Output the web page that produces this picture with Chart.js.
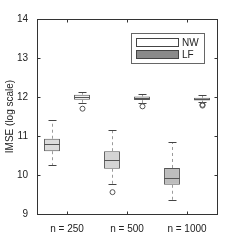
<!DOCTYPE html>
<html><head><meta charset="utf-8">
<script src="https://cdn.jsdelivr.net/npm/chart.js@4/dist/chart.umd.min.js"></script>
<style>html,body{margin:0;padding:0;background:#fff}#wrap{width:242px;height:241px}</style>
</head><body><div id="wrap"><canvas id="c" width="242" height="241"></canvas></div>
<script>
const categories = ['n = 250', 'n = 500', 'n = 1000'];
const seriesNames = ['LF', 'NW'];
const yTicks = [9, 10, 11, 12, 13, 14];
// LF series
const lfMin = [10.25, 9.77, 9.35];
const lfQ1 = [10.61, 10.16, 9.75];
const lfMed = [10.80, 10.39, 9.93];
const lfQ3 = [10.93, 10.61, 10.18];
const lfMax = [11.40, 11.16, 10.84];
const lfOutliers = [[], [9.56], []];
// NW series
const nwMin = [11.84, 11.85, 11.86];
const nwQ1 = [11.93, 11.92, 11.91];
const nwMed = [12.00, 11.97, 11.95];
const nwQ3 = [12.06, 12.01, 11.98];
const nwMax = [12.14, 12.08, 12.06];
const nwOutliers = [[11.70], [11.76], [11.80, 11.78]];

const stats = {
  LF: {min: lfMin, q1: lfQ1, med: lfMed, q3: lfQ3, max: lfMax, out: lfOutliers},
  NW: {min: nwMin, q1: nwQ1, med: nwMed, q3: nwQ3, max: nwMax, out: nwOutliers}
};
const FONT = "'Liberation Sans', Arial, sans-serif";

const boxPlugin = {
  id: 'boxPlugin',
  afterDatasetsDraw(chart) {
    const ctx = chart.ctx, y = chart.scales.y;
    chart.data.datasets.forEach((ds, di) => {
      const s = stats[ds.label];
      const meta = chart.getDatasetMeta(di);
      meta.data.forEach((bar, i) => {
        const x = Math.round(bar.x) + 0.5;
        const cap = 4;
        const yMin = Math.round(y.getPixelForValue(s.min[i])) + 0.5;
        const yMax = Math.round(y.getPixelForValue(s.max[i])) + 0.5;
        const yQ1 = y.getPixelForValue(s.q1[i]);
        const yQ3 = y.getPixelForValue(s.q3[i]);
        const yMed = Math.round(y.getPixelForValue(s.med[i])) + 0.5;
        ctx.save();
        ctx.lineWidth = 1;
        ctx.strokeStyle = '#9a9a9a';
        ctx.setLineDash([3, 3]);
        ctx.beginPath();
        ctx.moveTo(x, yQ3); ctx.lineTo(x, yMax);
        ctx.moveTo(x, yQ1); ctx.lineTo(x, yMin);
        ctx.stroke();
        ctx.setLineDash([]);
        ctx.strokeStyle = '#444';
        ctx.beginPath();
        ctx.moveTo(x - cap, yMax); ctx.lineTo(x + cap, yMax);
        ctx.moveTo(x - cap, yMin); ctx.lineTo(x + cap, yMin);
        ctx.stroke();
        ctx.strokeStyle = '#555';
        ctx.beginPath();
        ctx.moveTo(bar.x - bar.width / 2, yMed); ctx.lineTo(bar.x + bar.width / 2, yMed);
        ctx.stroke();
        ctx.strokeStyle = '#555';
        s.out[i].forEach(v => {
          ctx.beginPath();
          ctx.arc(x, y.getPixelForValue(v), 2.5, 0, Math.PI * 2);
          ctx.stroke();
        });
        ctx.restore();
      });
    });
  },
  afterDraw(chart) {
    const ctx = chart.ctx, a = chart.chartArea;
    const y = chart.scales.y, xs = chart.scales.x;
    ctx.save();
    ctx.lineWidth = 1;
    ctx.strokeStyle = '#333';
    const L = Math.round(a.left) + 0.5, R = Math.round(a.right) + 0.5;
    const T = Math.round(a.top) + 0.5, B = Math.round(a.bottom) + 0.5;
    ctx.strokeRect(L, T, R - L, B - T);
    ctx.beginPath();
    yTicks.forEach(v => {
      const py = Math.round(y.getPixelForValue(v)) + 0.5;
      ctx.moveTo(L, py); ctx.lineTo(L + 3, py);
      ctx.moveTo(R, py); ctx.lineTo(R - 3, py);
    });
    categories.forEach((c, i) => {
      const px = Math.round(xs.getPixelForValue(i)) + 0.5;
      ctx.moveTo(px, B); ctx.lineTo(px, B - 3);
      ctx.moveTo(px, T); ctx.lineTo(px, T + 3);
    });
    ctx.stroke();
    // legend (NW first, then LF)
    const lx = a.left + 94, ly = a.top + 14;
    ctx.fillStyle = '#fff';
    ctx.strokeStyle = '#666';
    ctx.fillRect(lx + 0.5, ly + 0.5, 73, 30);
    ctx.strokeRect(lx + 0.5, ly + 0.5, 73, 30);
    const items = [['NW', '#ffffff'], ['LF', '#8a8a8a']];
    items.forEach((it, k) => {
      const sy = ly + 5 + k * 12;
      ctx.fillStyle = it[1];
      ctx.fillRect(lx + 5.5, sy + 0.5, 42, 8);
      ctx.strokeStyle = '#444';
      ctx.strokeRect(lx + 5.5, sy + 0.5, 42, 8);
      ctx.fillStyle = '#222';
      ctx.font = '10px ' + FONT;
      ctx.textBaseline = 'middle';
      ctx.textAlign = 'left';
      ctx.fillText(it[0], lx + 51, sy + 5);
    });
    ctx.restore();
  }
};

new Chart(document.getElementById('c'), {
  type: 'bar',
  data: {
    labels: categories,
    datasets: [
      {
        label: 'LF',
        data: lfQ1.map((v, i) => [v, lfQ3[i]]),
        backgroundColor: ['#dcdcdc', '#d4d4d4', '#bdbdbd'],
        borderColor: '#555', borderWidth: 1, borderSkipped: false
      },
      {
        label: 'NW',
        data: nwQ1.map((v, i) => [v, nwQ3[i]]),
        backgroundColor: ['#f2f2f2', '#dedede', '#d6d6d6'],
        borderColor: '#555', borderWidth: 1, borderSkipped: false
      }
    ]
  },
  options: {
    responsive: false,
    animation: false,
    devicePixelRatio: 1,
    layout: {padding: {top: 19, right: 25, left: 0, bottom: 0}},
    categoryPercentage: 1.0,
    barPercentage: 0.53,
    plugins: {legend: {display: false}, tooltip: {enabled: false}},
    scales: {
      x: {
        grid: {display: false, drawTicks: false},
        border: {display: false},
        ticks: {color: '#222', font: {family: FONT, size: 10}, padding: 9, maxRotation: 0},
        afterFit(s) { s.height = 27; }
      },
      y: {
        min: 9, max: 14,
        afterBuildTicks(s) { s.ticks = yTicks.map(v => ({value: v})); },
        grid: {display: false, drawTicks: false},
        border: {display: false},
        ticks: {color: '#222', font: {family: FONT, size: 10}, padding: 9},
        title: {display: true, text: 'IMSE (log scale)', color: '#222', font: {family: FONT, size: 10}, padding: {top: 4, bottom: 0}},
        afterFit(s) { s.width = 37; }
      }
    }
  },
  plugins: [boxPlugin]
});
</script></body></html>
